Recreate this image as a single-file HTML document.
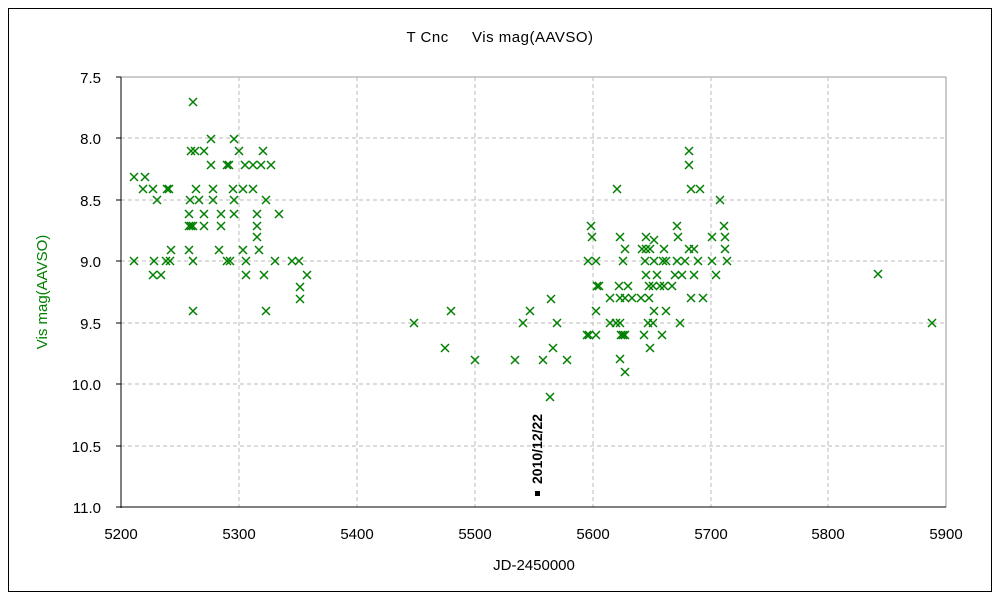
<!DOCTYPE html>
<html><head><style>body{margin:0;background:#fff}</style></head><body>
<svg width="1000" height="600" xmlns="http://www.w3.org/2000/svg" font-family="Liberation Sans, sans-serif">
<rect x="0" y="0" width="1000" height="600" fill="#fff"/>
<rect x="8.5" y="8.5" width="983" height="583" fill="none" stroke="#000" stroke-width="1"/>
<text x="500" y="42" font-size="15" text-anchor="middle" letter-spacing="0.5">T Cnc&#160;&#160;&#160;&#160;&#160;Vis mag(AAVSO)</text>
<rect x="121" y="77" width="825" height="430" fill="none" stroke="#999"/>
<g stroke="#bbb" stroke-dasharray="4,3">
<line x1="239" y1="77" x2="239" y2="507"/><line x1="357" y1="77" x2="357" y2="507"/><line x1="475" y1="77" x2="475" y2="507"/><line x1="593" y1="77" x2="593" y2="507"/><line x1="711" y1="77" x2="711" y2="507"/><line x1="828" y1="77" x2="828" y2="507"/>
<line x1="121" y1="138" x2="946" y2="138"/><line x1="121" y1="200" x2="946" y2="200"/><line x1="121" y1="261" x2="946" y2="261"/><line x1="121" y1="323" x2="946" y2="323"/><line x1="121" y1="384" x2="946" y2="384"/><line x1="121" y1="446" x2="946" y2="446"/>
</g>
<g stroke="#000"><line x1="121" y1="77" x2="121" y2="508"/><line x1="121" y1="507" x2="946" y2="507"/>
<line x1="116" y1="77" x2="121" y2="77"/><line x1="116" y1="138" x2="121" y2="138"/><line x1="116" y1="200" x2="121" y2="200"/><line x1="116" y1="261" x2="121" y2="261"/><line x1="116" y1="323" x2="121" y2="323"/><line x1="116" y1="384" x2="121" y2="384"/><line x1="116" y1="446" x2="121" y2="446"/><line x1="116" y1="507" x2="121" y2="507"/>
</g>
<g font-size="15" text-anchor="end">
<text x="101" y="83">7.5</text><text x="101" y="144">8.0</text><text x="101" y="206">8.5</text><text x="101" y="267">9.0</text><text x="101" y="329">9.5</text><text x="101" y="390">10.0</text><text x="101" y="452">10.5</text><text x="101" y="513">11.0</text>
</g>
<g font-size="15" text-anchor="middle">
<text x="121" y="539">5200</text><text x="239" y="539">5300</text><text x="357" y="539">5400</text><text x="475" y="539">5500</text><text x="593" y="539">5600</text><text x="711" y="539">5700</text><text x="828" y="539">5800</text><text x="946" y="539">5900</text>
</g>
<text x="534" y="570" font-size="15" text-anchor="middle">JD-2450000</text>
<text transform="translate(47,292) rotate(-90)" font-size="15" fill="#008000" text-anchor="middle">Vis mag(AAVSO)</text>
<rect x="535" y="491" width="5" height="5" fill="#000"/>
<text transform="translate(542,484) rotate(-90)" font-size="14" font-weight="bold">2010/12/22</text>
<g id="pts" stroke="#008000" stroke-width="1.5"></g>
</svg>
<script>
var p=[[193,102],[211,139],[234,139],[191,151],[195,151],[204,151],[239,151],[263,151],[211,165],[227,165],[229,165],[245,165],[253,165],[261,165],[271,165],[134,177],[145,177],[143,189],[153,189],[167,189],[169,189],[196,189],[213,189],[233,189],[243,189],[253,189],[157,200],[190,200],[199,200],[213,200],[234,200],[266,200],[189,214],[204,214],[221,214],[234,214],[257,214],[279,214],[189,226],[191,226],[193,226],[204,226],[221,226],[257,226],[257,237],[171,250],[189,250],[219,250],[243,250],[259,250],[134,261],[154,261],[166,261],[170,261],[193,261],[227,261],[230,261],[246,261],[275,261],[292,261],[299,261],[153,275],[161,275],[246,275],[264,275],[307,275],[300,287],[300,299],[193,311],[266,311],
[551,299],[451,311],[530,311],[414,323],[523,323],[557,323],[445,348],[553,348],[475,360],[515,360],[543,360],[567,360],[550,397],
[689,151],[689,165],[617,189],[691,189],[700,189],[720,200],[591,226],[677,226],[724,226],[592,237],[620,237],[646,237],[654,240],[678,237],[712,237],[725,237],[625,249],[642,249],[646,249],[650,249],[664,249],[689,249],[694,249],[725,249],[588,261],[596,261],[623,261],[645,261],[654,261],[663,261],[666,261],[677,261],[685,261],[698,261],[712,261],[727,261],[646,275],[657,275],[675,275],[682,275],[694,275],[716,275],[597,286],[599,286],[619,286],[628,286],[649,286],[653,286],[660,286],[664,286],[672,286],[610,298],[620,298],[625,298],[632,298],[641,298],[649,298],[691,298],[703,298],[596,311],[654,311],[666,311],[610,323],[616,323],[620,323],[648,323],[653,323],[680,323],[587,335],[589,335],[596,335],[621,335],[623,335],[625,335],[644,335],[662,335],[650,348],[620,359],[625,372],[878,274],[932,323]];
var g=document.getElementById('pts'),s='';
p.forEach(function(q){var x=q[0],y=q[1];s+='<path d="M'+(x-4)+' '+(y-4)+'L'+(x+4)+' '+(y+4)+'M'+(x+4)+' '+(y-4)+'L'+(x-4)+' '+(y+4)+'"/>';});
g.innerHTML=s;
</script>
</body></html>
